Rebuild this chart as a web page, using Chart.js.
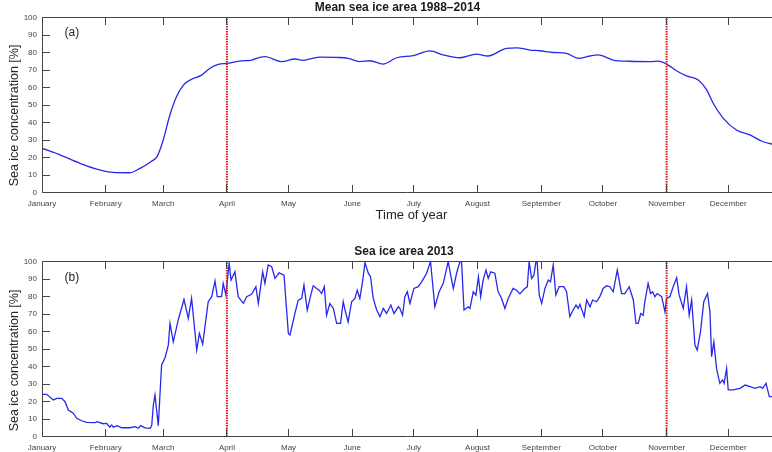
<!DOCTYPE html>
<html>
<head>
<meta charset="utf-8">
<script src="https://cdn.jsdelivr.net/npm/chart.js@4.4.1/dist/chart.umd.min.js"></script>
<style>
  body { margin: 0; background: #fff; }
  #wrap { position: relative; width: 772px; height: 452px; }
  canvas { position: absolute; left: 0; }
</style>
</head>
<body>
<div id="wrap">
  <canvas id="meanChart" width="772" height="226" style="top:0"></canvas>
  <canvas id="yearChart" width="772" height="226" style="top:226px"></canvas>
</div>
<script>
const monthNames = ['January', 'February', 'March', 'April', 'May', 'June', 'July', 'August', 'September', 'October', 'November', 'December'];
const monthStarts = [0, 31, 59, 90, 120, 151, 181, 212, 243, 273, 304, 334];
const markerDays = [90, 304];
const yTicks = [0, 10, 20, 30, 40, 50, 60, 70, 80, 90, 100];

// mean 1988-2014 (day of year, %)
const meanDays = [0, 9, 18.5, 28, 34.5, 42.8, 47.7, 53, 56, 59, 62, 65.5, 68.8, 72.8, 77.7, 81.8, 85.8, 90, 96, 102, 106, 108.5, 116.6, 123, 127, 135, 143, 149, 154.7, 159.6, 166, 172.6, 180.7, 188.8, 195.3, 203.4, 211.5, 217, 226, 231, 237.5, 242.3, 248.8, 255.3, 261, 266.7, 270.7, 278, 286, 296, 300, 304, 309, 313.7, 319.4, 323.5, 326.7, 331.6, 338, 344.5, 351, 355.3];
const meanIce = [25.3, 21.4, 16.7, 12.9, 11.5, 11.3, 13.8, 17.6, 20.5, 30, 43.3, 54.8, 61.4, 64.7, 67.1, 71, 73.2, 73.8, 75.1, 75.7, 77.2, 77.6, 74.8, 76.3, 75.5, 77.4, 77.2, 76.7, 74.8, 75.3, 73.4, 77, 78.2, 80.9, 78.6, 77, 79.1, 78, 82.4, 82.7, 81.4, 81, 80, 79.5, 76.7, 78, 78.6, 75.7, 75, 74.8, 75.1, 73.4, 69.4, 66.6, 64.3, 58.6, 51, 42.4, 35.7, 32.9, 29, 27.7];

// 2013 (day of year, %)
const obsDays = [0.3, 2.3, 5.5, 7.2, 9.6, 11.2, 12.8, 15.2, 16.9, 19.3, 21.7, 25.8, 26.6, 29.8, 31.5, 33, 33.9, 34.7, 36.6, 38.8, 42.8, 45.3, 46.9, 48, 50.1, 52.6, 53.4, 54.2, 55, 56.6, 58.2, 59.9, 61.5, 62.3, 63.9, 66.3, 69.1, 71.2, 72.8, 75.3, 76.6, 78.2, 80.9, 82.6, 84.2, 85.3, 87.4, 88.2, 89.5, 91.1, 92, 93.9, 95.5, 98, 99.6, 102, 104.1, 105.3, 107.4, 108.5, 110.1, 111.8, 113.4, 115.4, 117.8, 119.9, 120.7, 123.1, 124.7, 126.4, 127.5, 129.1, 130.8, 132, 133.7, 134.9, 136.1, 137.4, 138.5, 140.1, 141.8, 143.4, 145.3, 146.6, 147.9, 149, 150.7, 152.3, 153.4, 154.7, 156, 157.2, 158.8, 159.9, 161.2, 162.9, 164.5, 166.1, 167.7, 169.8, 171.3, 173.4, 174.2, 175.5, 176.6, 177.8, 179.1, 181, 183.1, 184.8, 187.2, 189.1, 191.2, 193.3, 195.3, 197.7, 198.9, 200.2, 201.8, 203.4, 204.2, 205.4, 207.5, 208.3, 209.9, 211.2, 212.4, 213.5, 214.7, 216.1, 217.2, 218.4, 220.4, 222, 223.7, 225.3, 226.9, 229.3, 231, 232.6, 235, 236.2, 237.1, 238.3, 239.4, 240.4, 241, 242, 243.2, 244.8, 246.4, 247.5, 248.8, 250.1, 251.7, 254, 255.3, 256.9, 258.5, 259.9, 261, 261.8, 263.9, 265.1, 266.7, 268, 269.9, 271.5, 273.1, 274.8, 276.4, 278, 280, 282.1, 283.7, 285.8, 287.8, 289.1, 290.2, 291.4, 292.6, 293.4, 295, 296.2, 297.2, 298.3, 299.4, 301.6, 303.2, 304, 305.6, 307.2, 308.9, 310.1, 312.1, 313.7, 315, 316.2, 317.8, 318.9, 320.5, 322.1, 323.9, 325.1, 325.9, 327, 328.3, 329.9, 331.2, 332, 333.2, 334, 336.5, 339.7, 342.2, 344.6, 347, 349.5, 350.8, 352.4, 354, 355.3];
const obsIce = [24.1, 24.1, 20.9, 21.8, 21.8, 19.9, 15.1, 13.3, 10.4, 9, 8.1, 7.9, 8.5, 7.3, 7.5, 5.3, 6.6, 5.3, 6.2, 5, 5, 5.6, 4.7, 6.2, 4.9, 4.7, 6.2, 18, 23.7, 6.2, 40.9, 45, 52.3, 64.6, 54.1, 66.6, 78.3, 67.5, 79, 49.4, 58.9, 52.7, 77, 79.9, 88.9, 79.9, 79.9, 87.5, 80.9, 99, 89.4, 94.1, 79.9, 76.1, 79.9, 81.3, 85.6, 76.1, 94.1, 87.5, 98, 97, 90.4, 93.5, 92.2, 58.9, 58, 70.3, 77.9, 78.9, 86.5, 72.2, 80.8, 86.1, 84.6, 83.6, 81.7, 85.6, 69.3, 76, 73.2, 64.6, 64.6, 77, 70.3, 65.5, 77, 78.9, 83.6, 78.9, 88.4, 99.4, 93.3, 91.3, 78.9, 72.3, 68.5, 73.2, 70.3, 75.1, 70.3, 74.1, 73.2, 69.3, 79.9, 82.7, 76, 84.6, 85.6, 88.4, 93.3, 100, 74.1, 82.7, 87.5, 100, 92.2, 84.6, 93.3, 100, 99.8, 72.3, 74.1, 73.2, 82.7, 80.8, 91.3, 79.9, 89.4, 95.1, 90.4, 94.1, 93.3, 82.7, 78.9, 73.2, 78.9, 84.6, 83.6, 81.5, 84.6, 85.5, 100, 90.3, 92.2, 99.8, 100, 80.9, 76.1, 84.6, 89.4, 88.4, 98, 80.9, 85.6, 85.6, 82.7, 68.5, 72.3, 75.1, 73.2, 75.5, 68.5, 78, 74.1, 78, 77, 79.9, 84.6, 86.1, 85.6, 82.7, 95.1, 81.7, 81.7, 85.6, 78, 64.6, 64.6, 70.3, 69.3, 77, 87.5, 81.7, 82.7, 79.9, 81.7, 79.9, 71.2, 78.9, 79.9, 85.6, 90.7, 80.9, 73.2, 85.6, 69.3, 78, 52.3, 49.4, 59.9, 77, 81.7, 71.2, 45.6, 54.1, 38.9, 30.4, 32.3, 30.4, 38.9, 26.6, 26.6, 27.5, 29.4, 28.5, 27.5, 28.5, 27.5, 30.4, 22.8, 22.8];

const FONT = '"Liberation Sans", Arial, Helvetica, sans-serif';
const AXIS_MAX_DAY = 355.3;
const TICK_LEN = 7.5;

// MATLAB-like box: inward ticks, titles, panel letter
const framePlugin = {
    id: 'frame',
    afterDatasetsDraw(chart, args, o) {
        const { ctx, chartArea: a, scales: { x, y } } = chart;
        ctx.save();
        ctx.strokeStyle = '#444';
        ctx.lineWidth = 1;
        const left = Math.floor(a.left) + 0.5;
        const top = Math.floor(a.top) + 0.5;
        const bottom = Math.floor(a.bottom) + 0.5;
        ctx.beginPath();
        ctx.moveTo(a.right + 2, top);
        ctx.lineTo(left, top);
        ctx.lineTo(left, bottom);
        ctx.lineTo(a.right + 2, bottom);
        monthStarts.forEach(d => {
            const px = Math.floor(x.getPixelForValue(d)) + 0.5;
            ctx.moveTo(px, bottom); ctx.lineTo(px, bottom - TICK_LEN);
            ctx.moveTo(px, top); ctx.lineTo(px, top + TICK_LEN);
        });
        yTicks.forEach(v => {
            const py = Math.floor(y.getPixelForValue(v)) + 0.5;
            ctx.moveTo(left, py); ctx.lineTo(left + TICK_LEN, py);
        });
        ctx.stroke();
        ctx.restore();
    },
    afterDraw(chart, args, o) {
        const { ctx } = chart;
        ctx.save();
        ctx.textBaseline = 'middle';
        ctx.textAlign = 'center';
        ctx.fillStyle = '#1a1a1a';
        ctx.font = 'bold 12px ' + FONT;
        ctx.fillText(o.title, o.titleX, o.titleY);
        ctx.fillStyle = '#262626';
        ctx.textAlign = 'left';
        ctx.font = '12px ' + FONT;
        ctx.fillText(o.panel, 64.5, o.panelY);
        if (o.xTitle) {
            ctx.textAlign = 'center';
            ctx.font = '13px ' + FONT;
            ctx.fillText(o.xTitle, o.xTitleX, o.xTitleY);
        }
        ctx.translate(15, o.yTitleY);
        ctx.rotate(-Math.PI / 2);
        ctx.textAlign = 'center';
        ctx.font = '12.5px ' + FONT;
        ctx.fillText('Sea ice concentration [%]', 0, 0);
        ctx.restore();
    }
};

const makeChart = (id, days, values, smooth, padTop, xAxisHeight, frame) => {
    const markerSets = markerDays.map(d => ({
        data: [{ x: d, y: 0 }, { x: d, y: 100 }],
        borderColor: 'rgb(225, 20, 20)',
        borderWidth: 2,
        borderDash: [1.5, 1],
        pointRadius: 0,
        order: 0
    }));
    return new Chart(document.getElementById(id), {
        type: 'line',
        data: {
            datasets: [{
                data: days.map((d, i) => ({ x: d, y: values[i] })),
                borderColor: 'rgb(40, 40, 235)',
                borderWidth: 1.3,
                pointRadius: 0,
                cubicInterpolationMode: smooth ? 'monotone' : 'default',
                tension: 0,
                order: 1
            }, ...markerSets]
        },
        options: {
            responsive: false,
            animation: false,
            devicePixelRatio: 1,
            layout: { padding: { top: padTop, left: 0, right: 0, bottom: 0 } },
            plugins: {
                legend: { display: false },
                tooltip: { enabled: false },
                frame: frame
            },
            scales: {
                x: {
                    type: 'linear',
                    min: 0,
                    max: AXIS_MAX_DAY,
                    grid: { display: false, drawTicks: false },
                    border: { display: false },
                    afterBuildTicks: s => { s.ticks = monthStarts.map(v => ({ value: v })); },
                    afterFit: s => { s.height = xAxisHeight; },
                    ticks: {
                        autoSkip: false,
                        maxRotation: 0,
                        padding: 6,
                        color: '#444',
                        font: { family: FONT, size: 8 },
                        callback: v => monthNames[monthStarts.indexOf(v)]
                    }
                },
                y: {
                    min: 0,
                    max: 100,
                    grid: { display: false, drawTicks: false },
                    border: { display: false },
                    afterFit: s => { s.width = 42; },
                    ticks: {
                        stepSize: 10,
                        padding: 5,
                        color: '#444',
                        font: { family: FONT, size: 8 }
                    }
                }
            }
        },
        plugins: [framePlugin]
    });
};

makeChart('meanChart', meanDays, meanIce, true, 17.5, 33.5, {
    title: 'Mean sea ice area 1988–2014', titleX: 397.5, titleY: 8,
    panel: '(a)', panelY: 33,
    xTitle: 'Time of year', xTitleX: 411.5, xTitleY: 215,
    yTitleY: 115.5
});

makeChart('yearChart', obsDays, obsIce, false, 35.5, 15.5, {
    title: 'Sea ice area 2013', titleX: 404, titleY: 25.5,
    panel: '(b)', panelY: 51.5,
    yTitleY: 134.5
});
</script>
</body>
</html>
